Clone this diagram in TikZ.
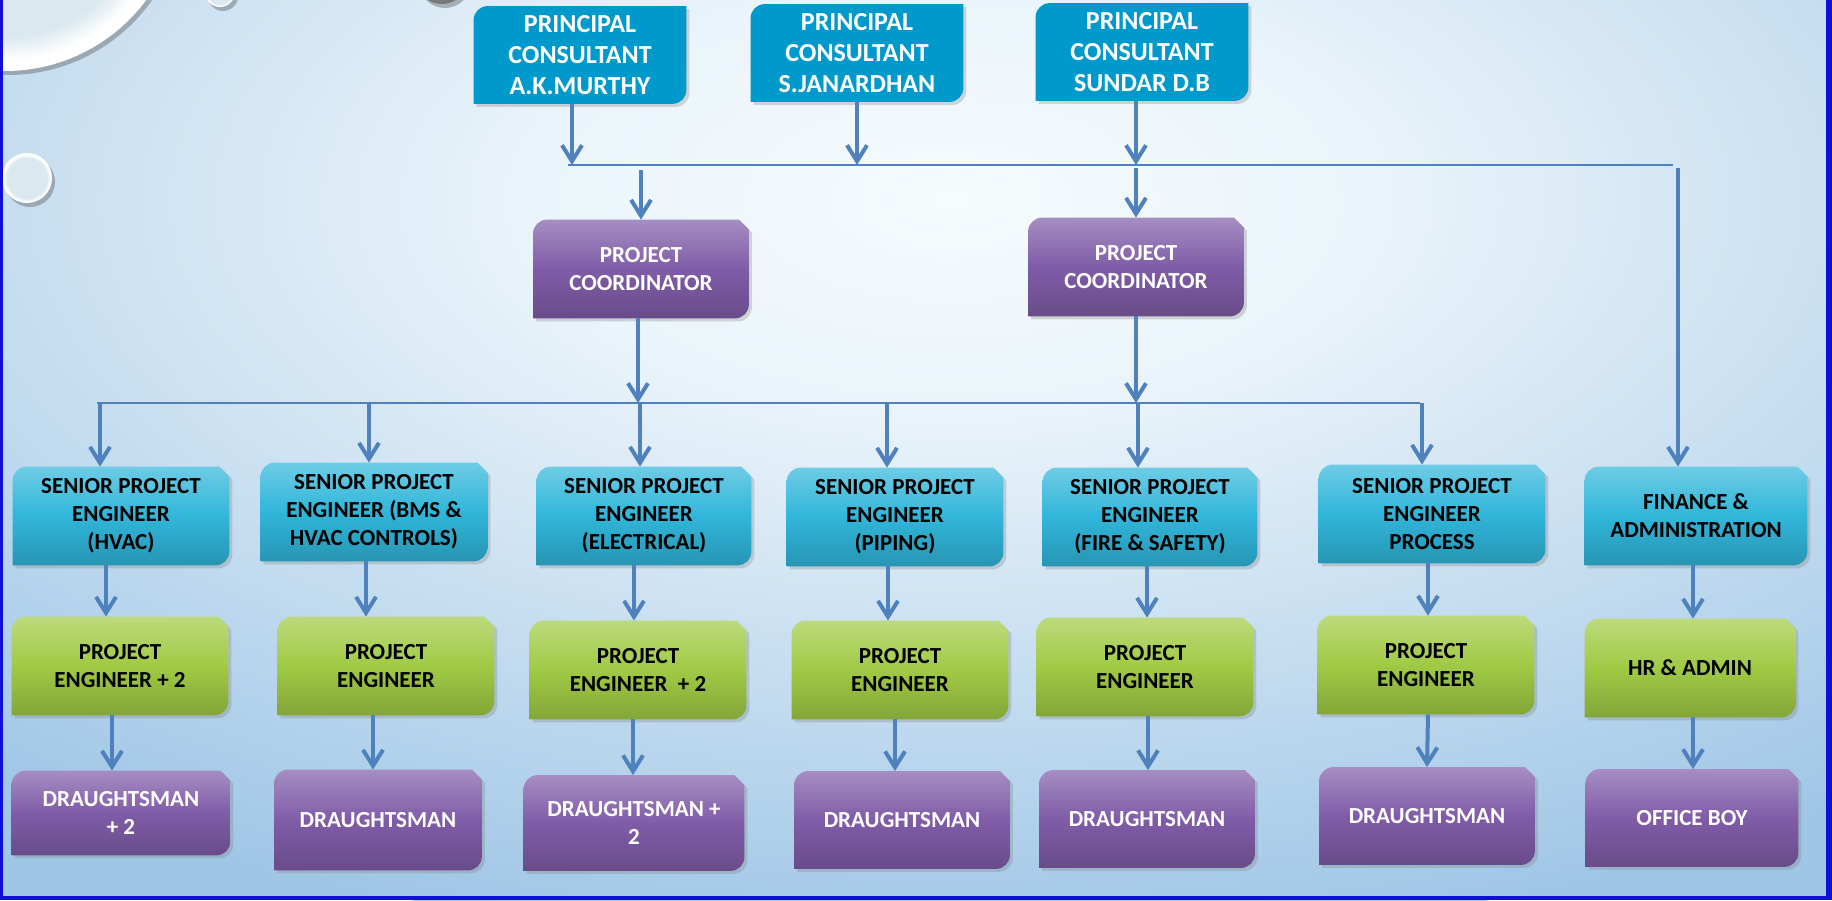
\documentclass[tikz,border=0pt]{standalone}
\usepackage{fontspec}
\setmainfont{Carlito}
\usetikzlibrary{arrows.meta,shadows,positioning}

\definecolor{prcblue}{RGB}{0,153,204}
\definecolor{spcyan}{RGB}{48,182,218}
\definecolor{pegreen}{RGB}{160,202,68}
\definecolor{dmpurple}{RGB}{128,92,168}
\definecolor{arrblue}{RGB}{79,129,189}
\definecolor{bgin}{RGB}{246,251,253}
\definecolor{bgmid}{RGB}{234,244,250}
\definecolor{bgout}{RGB}{160,198,230}
\definecolor{glassin}{RGB}{218,232,239}
\definecolor{frameblue}{RGB}{15,15,215}

\pgfdeclarelayer{background}
\pgfsetlayers{background,main}

\pgfdeclareradialshading{slidebg}{\pgfpoint{0bp}{0bp}}{color(0bp)=(bgin); color(7bp)=(bgmid); color(25bp)=(bgout); color(50bp)=(bgout)}
\pgfdeclareradialshading{glass}{\pgfpoint{0bp}{0bp}}{color(0bp)=(glassin); color(20bp)=(glassin); color(23.5bp)=(white); color(50bp)=(white)}

\newcommand{\snipbox}[2]{%
  \shade[drop shadow={shadow xshift=1.5pt,shadow yshift=-1.5pt,opacity=0.3},
    top color=#2!70!white, bottom color=#2!82!black, middle color=#2]
    (#1.south west) -- ([yshift=-7pt]#1.north west) arc[start angle=180,end angle=90,radius=7pt]
    -- ([xshift=-5pt]#1.north east) -- ([yshift=-5pt]#1.north east)
    -- ([yshift=7pt]#1.south east) arc[start angle=0,end angle=-90,radius=7pt] -- cycle;}
\newcommand{\roundbox}[2]{%
  \fill[#2, drop shadow={shadow xshift=1.5pt,shadow yshift=-1.5pt,opacity=0.3}]
    (#1.south west) -- ([yshift=-7pt]#1.north west) arc[start angle=180,end angle=90,radius=7pt]
    -- (#1.north east)
    -- ([yshift=7pt]#1.south east) arc[start angle=0,end angle=-90,radius=7pt] -- cycle;}

\begin{document}
\begin{tikzpicture}[x=0.5pt, y=-0.5pt,
    every node/.style={align=center, inner sep=0pt, font=\bfseries\fontsize{11.5}{14}\selectfont,
      minimum width=108pt, minimum height=49pt},
    pcbox/.style={text=white, font=\bfseries\fontsize{13}{15.5}\selectfont, minimum width=106pt, minimum height=48.5pt},
    cobox/.style={text=white, minimum width=107.5pt},
    spbox/.style={text=black},
    pebox/.style={text=black, minimum width=108pt},
    dmbox/.style={text=white, minimum width=107.5pt, minimum height=48.5pt},
    bus/.style={draw=arrblue, line width=1pt},
    arr/.style={draw=arrblue, line width=2pt, -{Straight Barb[length=8pt,width=10pt]}}]
  \useasboundingbox (0,0) rectangle (1832,900);

  \begin{pgfonlayer}{background}
    \begin{scope}
      \clip (0,0) rectangle (1832,900);
      \fill[bgout] (0,0) rectangle (1832,900);
      \shade[shading=slidebg] (950,200) ellipse[x radius=750pt, y radius=375pt];
      \foreach \bx/\by/\br in {5/-105/88, 220/-8/7.5, 27/178/12.5} {
        \fill[black!60, opacity=0.45] ([xshift=1.5pt,yshift=-2pt]\bx,\by) circle[radius=\br pt];
        \shade[shading=glass] (\bx,\by) circle[radius=\br pt];
      }
      \fill[black!60, opacity=0.45] ([xshift=1.5pt,yshift=-2pt]442,-22) circle[radius=13pt];
      \shade[inner color=black!35, outer color=black!55] (442,-22) circle[radius=13pt];
    \end{scope}
    \fill[frameblue] (0,0) rectangle (3,900);
    \fill[frameblue] (1826,0) rectangle (1832,900);
    \fill[frameblue] (0,896) rectangle (1832,900);
  \end{pgfonlayer}

  \node[pcbox] (murthy) at (580,55) {PRINCIPAL\\CONSULTANT\\A.K.MURTHY};
  \node[pcbox] (janardhan) at (857,53) {PRINCIPAL\\CONSULTANT\\S.JANARDHAN};
  \node[pcbox] (sundar) at (1142,52) {PRINCIPAL\\CONSULTANT\\SUNDAR D.B};

  \node[cobox] (coordA) at (641,269) {PROJECT\\COORDINATOR};
  \node[cobox] (coordB) at (1136,267) {PROJECT\\COORDINATOR};

  \node[spbox] (hvac) at (121,516) {SENIOR PROJECT\\ENGINEER\\(HVAC)};
  \node[spbox, minimum width=113pt] (bms) at (374,512) {SENIOR PROJECT\\ENGINEER (BMS \&\\HVAC CONTROLS)};
  \node[spbox, minimum width=107pt] (elec) at (644,516) {SENIOR PROJECT\\ENGINEER\\(ELECTRICAL)};
  \node[spbox] (piping) at (895,517) {SENIOR PROJECT\\ENGINEER\\(PIPING)};
  \node[spbox, minimum width=107pt] (fire) at (1150,517) {SENIOR PROJECT\\ENGINEER\\(FIRE \& SAFETY)};
  \node[spbox, minimum width=113pt] (process) at (1432,514) {SENIOR PROJECT\\ENGINEER\\PROCESS};
  \node[spbox, minimum width=111pt] (finance) at (1696,516) {FINANCE \&\\ADMINISTRATION};

  \node[pebox] (pehvac) at (120,666) {PROJECT\\ENGINEER + 2};
  \node[pebox] (pebms) at (386,666) {PROJECT\\ENGINEER};
  \node[pebox] (peelec) at (638,670) {PROJECT\\ENGINEER~ + 2};
  \node[pebox] (pepiping) at (900,670) {PROJECT\\ENGINEER};
  \node[pebox] (pefire) at (1145,667) {PROJECT\\ENGINEER};
  \node[pebox] (peprocess) at (1426,665) {PROJECT\\ENGINEER};
  \node[pebox, minimum width=105pt] (hr) at (1690,668) {HR \& ADMIN};

  \node[dmbox, minimum width=109pt, minimum height=42pt] (dmhvac) at (121,813) {DRAUGHTSMAN\\+ 2};
  \node[dmbox, minimum width=103.5pt, minimum height=50pt] (dmbms) at (378,820) {DRAUGHTSMAN};
  \node[dmbox, minimum width=110pt, minimum height=47.5pt] (dmelec) at (634,823) {DRAUGHTSMAN +\\2};
  \node[dmbox] (dmpiping) at (902,820) {DRAUGHTSMAN};
  \node[dmbox] (dmfire) at (1147,819) {DRAUGHTSMAN};
  \node[dmbox] (dmprocess) at (1427,816) {DRAUGHTSMAN};
  \node[dmbox, minimum width=106pt] (office) at (1692,818) {OFFICE BOY};

  \coordinate (topbusL) at (568,165);
  \coordinate (topbusR) at (1673,165);
  \coordinate (midbusL) at (97,403);
  \coordinate (midbusR) at (1420,403);

  \begin{pgfonlayer}{background}
    \foreach \n in {murthy,janardhan,sundar} {\roundbox{\n}{prcblue}}
    \foreach \n in {coordA,coordB,dmhvac,dmbms,dmelec,dmpiping,dmfire,dmprocess,office} {\snipbox{\n}{dmpurple}}
    \foreach \n in {hvac,bms,elec,piping,fire,process,finance} {\snipbox{\n}{spcyan}}
    \foreach \n in {pehvac,pebms,peelec,pepiping,pefire,peprocess,hr} {\snipbox{\n}{pegreen}}
  \end{pgfonlayer}

  \draw[bus] (topbusL) -- (topbusR);
  \draw[arr] ([xshift=-4pt]murthy.south) -- ([xshift=-4pt]murthy.south |- topbusL);
  \draw[arr] (janardhan.south) -- (janardhan.south |- topbusL);
  \draw[arr] ([xshift=-3pt]sundar.south) -- ([xshift=-3pt]sundar.south |- topbusL);
  \draw[arr] ([yshift=-2.5pt]coordA.north |- topbusL) -- (coordA.north);
  \draw[arr] ([yshift=-1.5pt]coordB.north |- topbusL) -- (coordB.north);
  \draw[arr] ([xshift=-9pt,yshift=-1.5pt]finance.north |- topbusR) -- ([xshift=-9pt]finance.north);

  \draw[bus] (midbusL) -- (midbusR);
  \draw[arr] ([xshift=-1.5pt]coordA.south) -- ([xshift=-1.5pt]coordA.south |- midbusL);
  \draw[arr] (coordB.south) -- (coordB.south |- midbusL);
  \foreach \n/\s in {hvac/-10.5, bms/-2.5, elec/-2, piping/-4, fire/-6, process/-5}
    \draw[arr] ([xshift=\s pt]\n.north |- midbusL) -- ([xshift=\s pt]\n.north);

  \foreach \a/\b/\sa/\sb in {hvac/pehvac/-7.5/-7, pehvac/dmhvac/-4/-4.5, bms/pebms/-4/-10, pebms/dmbms/-6.5/-2.5,
      elec/peelec/-5/-2, peelec/dmelec/-2.5/-0.5, piping/pepiping/-3.5/-6, pepiping/dmpiping/-2.5/-3.5,
      fire/pefire/-1.5/1, pefire/dmfire/1.5/0.5, process/peprocess/-2/1, peprocess/dmprocess/1/0,
      finance/hr/-1.5/1.5, hr/office/1.5/0.5}
    \draw[arr] ([xshift=\sa pt]\a.south) -- ([xshift=\sb pt]\b.north);
\end{tikzpicture}
\end{document}
